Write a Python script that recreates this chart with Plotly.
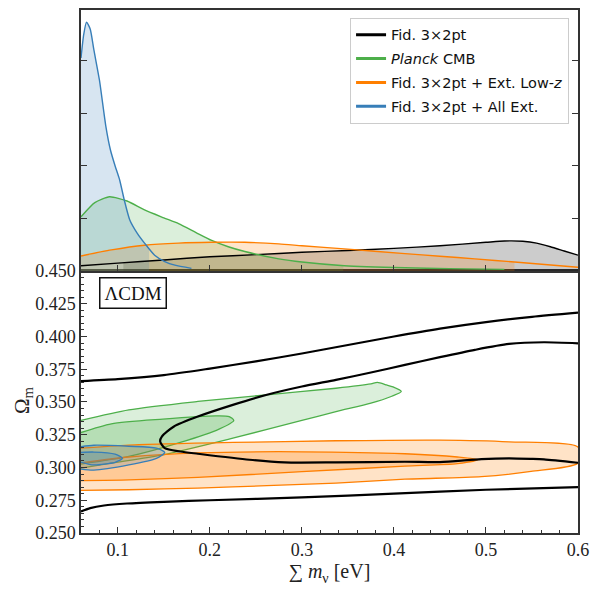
import numpy as np
import plotly.graph_objects as go

# ---------------- 1D marginal posteriors (top panel) ----------------
mnu_fid = [0.06, 0.10, 0.15, 0.20, 0.25, 0.30, 0.35, 0.40, 0.45, 0.50, 0.52, 0.54, 0.555, 0.57, 0.585, 0.60]
p_fid = [0.10, 0.15, 0.21, 0.27, 0.31, 0.355, 0.39, 0.43, 0.48, 0.545, 0.57, 0.565, 0.53, 0.46, 0.38, 0.30]

mnu_planck = [0.06, 0.075, 0.091, 0.11, 0.129, 0.15, 0.166, 0.185, 0.202, 0.22, 0.238, 0.275, 0.30, 0.346, 0.412, 0.46, 0.52]
p_planck = [1.03, 1.30, 1.41, 1.33, 1.16, 1.01, 0.90, 0.73, 0.58, 0.46, 0.37, 0.23, 0.17, 0.10, 0.06, 0.045, 0.03]

mnu_lowz = [0.06, 0.093, 0.129, 0.166, 0.202, 0.238, 0.275, 0.30, 0.346, 0.412, 0.45, 0.488, 0.531, 0.60]
p_lowz = [0.285, 0.40, 0.49, 0.53, 0.545, 0.545, 0.515, 0.48, 0.42, 0.33, 0.28, 0.23, 0.17, 0.07]

mnu_all = [0.06, 0.063, 0.066, 0.07, 0.074, 0.08, 0.087, 0.092, 0.097, 0.102, 0.107, 0.113, 0.121, 0.129, 0.14, 0.151, 0.162, 0.18]
p_all = [4.05, 4.50, 4.73, 4.60, 4.20, 3.63, 2.75, 2.30, 2.00, 1.73, 1.35, 0.97, 0.72, 0.53, 0.30, 0.18, 0.11, 0.05]

# shaded credible ranges
range_fid = [0.106, 0.60]
range_planck = [0.06, 0.345]
range_lowz = [0.06, 0.531]
range_all = [0.06, 0.134]

# ---------------- 2D contours (bottom panel) ----------------
# Fid. 3x2pt (open lines)
fid95_top_x = [0.06, 0.10, 0.15, 0.20, 0.25, 0.30, 0.35, 0.40, 0.45, 0.50, 0.55, 0.60]
fid95_top_y = [0.3660, 0.3675, 0.3705, 0.3755, 0.3810, 0.3870, 0.3935, 0.4000, 0.4060, 0.4110, 0.4150, 0.4182]
fid95_bot_x = [0.06, 0.07, 0.085, 0.11, 0.15, 0.20, 0.30, 0.40, 0.50, 0.60]
fid95_bot_y = [0.2665, 0.2690, 0.2710, 0.2725, 0.2738, 0.2750, 0.2772, 0.2800, 0.2830, 0.2850]
fid68_x = [0.60, 0.563, 0.525, 0.488, 0.45, 0.412, 0.375, 0.337, 0.30, 0.262, 0.225, 0.187, 0.161, 0.148, 0.146,
           0.151, 0.168, 0.187, 0.243, 0.281, 0.337, 0.412, 0.45, 0.495, 0.525, 0.549, 0.563, 0.60]
fid68_y = [0.3948, 0.3956, 0.3943, 0.3898, 0.3842, 0.3783, 0.3725, 0.3669, 0.3618, 0.3555, 0.3478, 0.3389, 0.3313, 0.3237, 0.3199,
           0.3148, 0.3122, 0.3105, 0.3059, 0.3039, 0.3039, 0.3044, 0.3041, 0.3064, 0.3070, 0.3066, 0.3062, 0.3036]

# Planck CMB
planck95_x = [0.06, 0.112, 0.187, 0.262, 0.337, 0.375, 0.382, 0.392, 0.399, 0.408, 0.397, 0.375, 0.337, 0.30, 0.225, 0.149, 0.093, 0.06]
planck95_y = [0.3359, 0.3440, 0.3504, 0.3555, 0.3605, 0.3638, 0.3649, 0.3630, 0.3615, 0.3580, 0.3542, 0.3491, 0.3427, 0.3359, 0.3224, 0.3097, 0.3033, 0.2995]
planck68_x = [0.06, 0.093, 0.149, 0.206, 0.221, 0.226, 0.21, 0.168, 0.112, 0.06]
planck68_y = [0.3267, 0.3333, 0.3369, 0.3394, 0.3389, 0.3359, 0.3293, 0.3191, 0.3084, 0.3026]

# Fid. 3x2pt + Ext. Low-z
lowz95_x = [0.06, 0.112, 0.225, 0.337, 0.45, 0.525, 0.60, 0.60, 0.549, 0.495, 0.412, 0.337, 0.262, 0.187, 0.112, 0.06]
lowz95_y = [0.3148, 0.3171, 0.3191, 0.3204, 0.3209, 0.3196, 0.3156, 0.3034, 0.2970, 0.2930, 0.2911, 0.2881, 0.2861, 0.2843, 0.2830, 0.2825]
lowz68_x = [0.06, 0.112, 0.187, 0.30, 0.412, 0.469, 0.491, 0.469, 0.412, 0.30, 0.187, 0.112, 0.06]
lowz68_y = [0.3035, 0.3080, 0.3112, 0.3120, 0.3105, 0.3080, 0.3060, 0.3030, 0.3010, 0.2968, 0.2925, 0.2905, 0.2900]

# Fid. 3x2pt + All Ext.
all95_x = [0.06, 0.074, 0.112, 0.142, 0.151, 0.142, 0.112, 0.074, 0.06]
all95_y = [0.3160, 0.3170, 0.3162, 0.3148, 0.3115, 0.3070, 0.3020, 0.2980, 0.2988]
all68_x = [0.06, 0.074, 0.097, 0.105, 0.097, 0.074, 0.06]
all68_y = [0.3115, 0.3118, 0.3102, 0.3070, 0.3040, 0.3020, 0.3040]

labels = ["Fid. 3×2pt", "<i>Planck</i> CMB", "Fid. 3×2pt + Ext. Low-<i>z</i>", "Fid. 3×2pt + All Ext."]
x_ticks = [0.1, 0.2, 0.3, 0.4, 0.5, 0.6]

BLACK = "#000000"
GREEN = "#4daf4a"
ORANGE = "#ff7f00"
BLUE = "#377eb8"


def rgba(hexc, a):
    h = hexc.lstrip("#")
    r, g, b = int(h[0:2], 16), int(h[2:4], 16), int(h[4:6], 16)
    return f"rgba({r},{g},{b},{a})"


fig = go.Figure()

# ---- top panel fills (shaded credible ranges under each curve) ----
def shaded(xs, ys, rng, col, alpha):
    xs = np.asarray(xs, float)
    ys = np.asarray(ys, float)
    lo, hi = rng
    inside = (xs > lo) & (xs < hi)
    fx = [lo] + list(xs[inside]) + [hi]
    fy = [float(np.interp(lo, xs, ys))] + list(ys[inside]) + [float(np.interp(hi, xs, ys))]
    fig.add_trace(go.Scatter(x=fx, y=fy, mode="lines", line=dict(width=0, shape="spline", smoothing=0.6),
                             fill="tozeroy", fillcolor=rgba(col, alpha), hoverinfo="skip",
                             showlegend=False, xaxis="x2", yaxis="y2"))


shaded(mnu_fid, p_fid, range_fid, BLACK, 0.2)
shaded(mnu_planck, p_planck, range_planck, GREEN, 0.2)
shaded(mnu_lowz, p_lowz, range_lowz, ORANGE, 0.2)
shaded(mnu_all, p_all, range_all, BLUE, 0.2)

for xs, ys, col in [(mnu_fid, p_fid, BLACK), (mnu_planck, p_planck, GREEN),
                    (mnu_lowz, p_lowz, ORANGE), (mnu_all, p_all, BLUE)]:
    fig.add_trace(go.Scatter(x=xs, y=ys, mode="lines", line=dict(color=col, width=1.4, shape="spline", smoothing=0.6),
                             showlegend=False, hoverinfo="skip", xaxis="x2", yaxis="y2"))

# legend entries
for i, (name, col) in enumerate(zip(labels, [BLACK, GREEN, ORANGE, BLUE])):
    fig.add_trace(go.Scatter(x=[None], y=[None], mode="lines", line=dict(color=col, width=3),
                             name=name, legendgroup=f"g{i}", xaxis="x2", yaxis="y2"))

# ---- bottom panel contours ----
def filled(xs, ys, col, alpha, width=1.3):
    fig.add_trace(go.Scatter(x=xs, y=ys, mode="lines", line=dict(color=col, width=width, shape="spline", smoothing=0.7),
                             fill="toself", fillcolor=rgba(col, alpha), hoverinfo="skip",
                             showlegend=False, xaxis="x", yaxis="y"))


filled(planck95_x, planck95_y, GREEN, 0.2)
filled(planck68_x, planck68_y, GREEN, 0.26)
filled(lowz95_x, lowz95_y, ORANGE, 0.22)
filled(lowz68_x, lowz68_y, ORANGE, 0.24)
filled(all95_x, all95_y, BLUE, 0.2)
filled(all68_x, all68_y, BLUE, 0.26)

for xs, ys in [(fid95_top_x, fid95_top_y), (fid95_bot_x, fid95_bot_y), (fid68_x, fid68_y)]:
    fig.add_trace(go.Scatter(x=xs, y=ys, mode="lines", line=dict(color=BLACK, width=2.2, shape="spline", smoothing=0.7),
                             showlegend=False, hoverinfo="skip", xaxis="x", yaxis="y"))

AX = "#333333"
SERIF = "Liberation Serif"
SPLIT = 0.501

fig.update_layout(
    width=592, height=582,
    margin=dict(l=73, r=22, t=2, b=57),
    paper_bgcolor="white", plot_bgcolor="white",
    font=dict(family=SERIF, size=18, color="#222"),
    xaxis=dict(domain=[0, 1], range=[0.06, 0.6], tickvals=x_ticks, ticktext=[f"{v:.1f}" for v in x_ticks],
               ticks="inside", ticklen=6, tickwidth=1, tickcolor=AX, automargin=False,
               minor=dict(ticks="inside", ticklen=3, dtick=0.02, tick0=0, tickcolor=AX, showgrid=False),
               showline=True, linecolor=AX, linewidth=1.5, mirror=True, showgrid=False, zeroline=False,
               anchor="y",
               title=dict(text="∑ <i>m</i><sub>ν</sub> [eV]", font=dict(family=SERIF, size=20), standoff=4)),
    yaxis=dict(domain=[0, SPLIT], range=[0.25, 0.45], dtick=0.025, tick0=0.25, tickformat=".3f",
               ticks="inside", ticklen=6, tickwidth=1, tickcolor=AX, automargin=False,
               minor=dict(ticks="inside", ticklen=3, dtick=0.005, tick0=0.25, tickcolor=AX, showgrid=False),
               showline=True, linecolor=AX, linewidth=1.5, mirror=True, showgrid=False, zeroline=False,
               anchor="x"),
    xaxis2=dict(domain=[0, 1], range=[0.06, 0.6], matches="x", tickvals=x_ticks, showticklabels=False,
                ticks="inside", ticklen=6, tickwidth=1, tickcolor=AX, automargin=False,
                showline=True, linecolor=AX, linewidth=1.5, mirror=True, showgrid=False, zeroline=False,
                anchor="y2"),
    yaxis2=dict(domain=[SPLIT, 1], range=[0, 4.96], tickvals=[1, 2, 3, 4], showticklabels=False,
                ticks="inside", ticklen=6, tickwidth=1, tickcolor=AX, automargin=False,
                showline=True, linecolor=AX, linewidth=1.5, mirror="ticks", showgrid=False, zeroline=False,
                anchor="x2"),
    legend=dict(x=0.982, y=0.985, xanchor="right", yanchor="top", xref="paper", yref="paper",
                bgcolor="white", bordercolor="#cccccc", borderwidth=1,
                font=dict(family="DejaVu Sans", size=14.5, color="#111"), tracegroupgap=2, itemwidth=30),
    showlegend=True,
    annotations=[
        dict(text="ΛCDM", xref="paper", yref="paper", x=0.1056, y=0.459,
             xanchor="center", yanchor="middle", showarrow=False,
             font=dict(family=SERIF, size=19, color="#111"), bordercolor="#111", borderwidth=1.5,
             borderpad=4, bgcolor="white"),
        dict(text="Ω<sub>m</sub>", xref="paper", yref="paper", x=-0.117, y=0.254,
             xanchor="center", yanchor="middle", showarrow=False, textangle=-90,
             font=dict(family=SERIF, size=21, color="#222")),
    ],
)

fig.write_html("out.html")
